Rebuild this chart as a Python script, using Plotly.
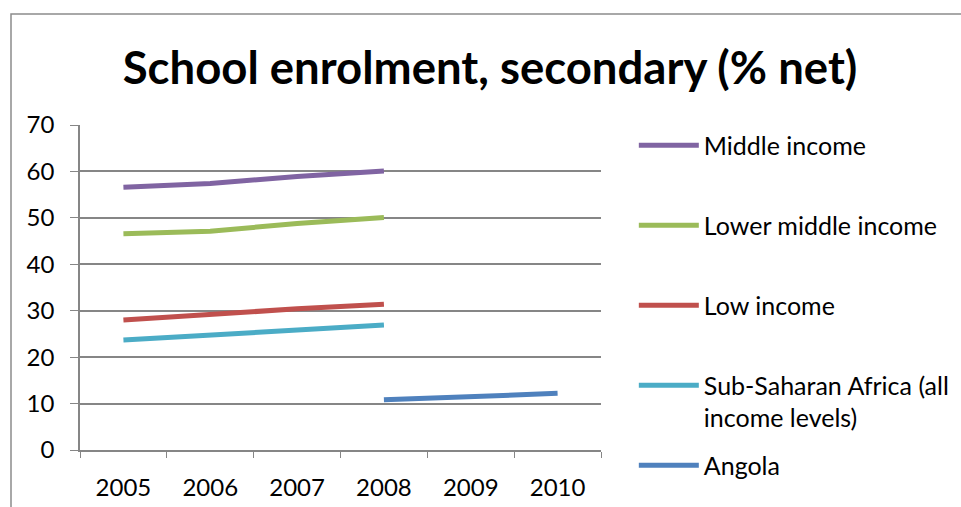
import plotly.graph_objects as go

years = ["2005", "2006", "2007", "2008", "2009", "2010"]

middle_income = [56.6, 57.4, 58.9, 60.1, None, None]
lower_middle_income = [46.6, 47.1, 48.8, 50.1, None, None]
low_income = [28.0, 29.3, 30.4, 31.4, None, None]
sub_saharan = [23.7, 24.7, 25.8, 26.9, None, None]
angola = [None, None, None, 10.8, 11.5, 12.2]

series = [
    ("Middle income", middle_income, "#8064A2"),
    ("Lower middle income", lower_middle_income, "#9BBB59"),
    ("Low income", low_income, "#C0504D"),
    ("Sub-Saharan Africa (all<br>income levels)", sub_saharan, "#4BACC6"),
    ("Angola", angola, "#4F81BD"),
]

FONT = "Lato"

fig = go.Figure()

# one legend per entry so the spacing can match the Excel layout
legend_ids = ["legend", "legend2", "legend3", "legend4", "legend5"]
legend_y = [1.008, 0.7618, 0.5157, 0.2695, 0.0234]

for (name, vals, color), lid in zip(series, legend_ids):
    fig.add_trace(go.Scatter(x=years, y=vals, name=name, mode="lines",
                             line=dict(color=color, width=5),
                             connectgaps=False, legend=lid))

legend_layout = {}
for lid, ly in zip(legend_ids, legend_y):
    legend_layout[lid] = dict(x=1.063, y=ly, xanchor="left", yanchor="top",
                              valign="top", itemwidth=60,
                              font=dict(family=FONT, size=25, color="#000000"),
                              bgcolor="rgba(0,0,0,0)")

fig.update_layout(
    width=961, height=507,
    margin=dict(l=80, r=360, t=125, b=57, autoexpand=False),
    paper_bgcolor="white", plot_bgcolor="white",
    font=dict(family=FONT, size=24, color="#000000"),
    title=dict(text="<b>School enrolment, secondary (% net)</b>",
               x=490 / 961, xanchor="center", y=1 - 68 / 507, yanchor="middle",
               font=dict(family=FONT, size=45.5, color="#000000")),
    showlegend=True,
    **legend_layout,
)

fig.update_xaxes(type="category", range=[-0.5, 5.5], automargin=False,
                 showgrid=False, showline=True,
                 linecolor="#868686", linewidth=1.5,
                 ticks="outside", tickson="boundaries", ticklen=6,
                 tickcolor="#868686", ticklabelstandoff=15,
                 tickfont=dict(family=FONT, size=24, color="#000000"))
fig.update_yaxes(range=[0, 70], dtick=10, automargin=False,
                 showgrid=True, gridcolor="#868686",
                 gridwidth=1.5, showline=True, linecolor="#868686", linewidth=1.5,
                 ticks="outside", ticklen=8, tickcolor="#868686",
                 ticklabelstandoff=11, zeroline=False,
                 tickfont=dict(family=FONT, size=24, color="#000000"))

# chart frame (right and bottom edges fall outside the picture)
fig.add_shape(type="rect", xref="paper", yref="paper",
              x0=(11 - 80) / 521, x1=(975 - 80) / 521,
              y0=-0.3, y1=(450 - 14) / 325,
              line=dict(color="#8C8C8C", width=1.5), layer="below")

# drop the default 8px body margin so the figure sits at the page origin
fig.write_html("out.html", config={"displayModeBar": False},
               post_script="document.body.style.margin='0';")
